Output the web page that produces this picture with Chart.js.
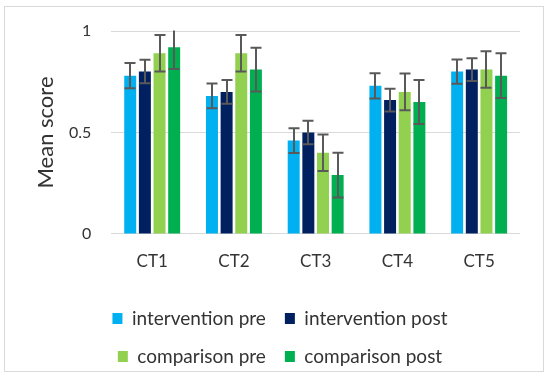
<!DOCTYPE html>
<html>
<head>
<meta charset="utf-8">
<script src="https://cdn.jsdelivr.net/npm/chart.js@4/dist/chart.umd.min.js"></script>
<style>
  html, body { margin: 0; padding: 0; background: #fff; }
  #wrap { width: 550px; height: 376px; position: relative; }
</style>
</head>
<body>
<div id="wrap"><canvas id="c" width="550" height="376"></canvas></div>
<script>
const categories = ['CT1', 'CT2', 'CT3', 'CT4', 'CT5'];
const seriesNames = ['intervention pre', 'intervention post', 'comparison pre', 'comparison post'];
const interventionPre  = [0.78, 0.68, 0.46, 0.73, 0.80];
const interventionPost = [0.80, 0.70, 0.50, 0.66, 0.81];
const comparisonPre    = [0.89, 0.89, 0.40, 0.70, 0.81];
const comparisonPost   = [0.92, 0.81, 0.29, 0.65, 0.78];
const errInterventionPre  = [0.062, 0.061, 0.061, 0.062, 0.060];
const errInterventionPost = [0.058, 0.058, 0.058, 0.056, 0.056];
const errComparisonPre    = [0.090, 0.090, 0.090, 0.091, 0.090];
const errComparisonPost   = [0.107, 0.108, 0.110, 0.108, 0.110];
const yTicks = [0, 0.5, 1];
const yTickLabels = ['0', '0.5', '1'];

const colors = ['#00B0F0', '#002060', '#92D050', '#00B050'];
const values = [interventionPre, interventionPost, comparisonPre, comparisonPost];
const errors = [errInterventionPre, errInterventionPost, errComparisonPre, errComparisonPost];

const FONT = 'Lato';
const TEXT = '#333333';

const frame = {
  id: 'frame',
  beforeDraw(chart) {
    const ctx = chart.ctx;
    ctx.save();
    ctx.fillStyle = '#ffffff';
    ctx.fillRect(0, 0, chart.width, chart.height);
    ctx.strokeStyle = '#D9D9D9';
    ctx.lineWidth = 1;
    ctx.strokeRect(4.5, 6.5, 539, 365);
    ctx.restore();
  }
};

const errorBars = {
  id: 'errorBars',
  afterDatasetsDraw(chart) {
    const ctx = chart.ctx;
    const y = chart.scales.y;
    const area = chart.chartArea;
    ctx.save();
    ctx.beginPath();
    ctx.rect(area.left, area.top - 0.5, area.right - area.left, area.bottom - area.top + 1);
    ctx.clip();
    ctx.strokeStyle = '#595959';
    ctx.lineWidth = 2;
    chart.data.datasets.forEach((ds, di) => {
      const meta = chart.getDatasetMeta(di);
      meta.data.forEach((bar, i) => {
        const v = ds.data[i];
        const e = ds.errors[i];
        const x = Math.round(bar.x);
        const yTop = y.getPixelForValue(v + e);
        const yBot = y.getPixelForValue(v - e);
        const cap = 5.5;
        ctx.beginPath();
        ctx.moveTo(x, yTop); ctx.lineTo(x, yBot);
        ctx.moveTo(x - cap, yTop); ctx.lineTo(x + cap, yTop);
        ctx.moveTo(x - cap, yBot); ctx.lineTo(x + cap, yBot);
        ctx.stroke();
      });
    });
    ctx.restore();
  }
};

new Chart(document.getElementById('c'), {
  type: 'bar',
  data: {
    labels: categories,
    datasets: seriesNames.map((name, k) => ({
      label: name,
      data: values[k],
      errors: errors[k],
      backgroundColor: colors[k],
      borderWidth: 0,
      barPercentage: 0.818,
      categoryPercentage: 0.717
    }))
  },
  options: {
    responsive: false,
    animation: false,
    devicePixelRatio: 1,
    layout: { padding: { top: 31, left: 40, right: 30, bottom: 0 } },
    plugins: {
      tooltip: { enabled: false },
      legend: {
        position: 'bottom',
        maxHeight: 99.5,
        labels: {
          boxWidth: 10,
          boxHeight: 11,
          padding: 19,
          color: TEXT,
          font: { family: FONT, size: 19 }
        }
      }
    },
    scales: {
      x: {
        grid: { display: false, drawTicks: false },
        border: { display: false },
        ticks: {
          color: TEXT,
          padding: 12.5,
          font: { family: FONT, size: 17, lineHeight: 1.824 }
        }
      },
      y: {
        min: 0,
        max: 1,
        afterBuildTicks(scale) { scale.ticks = yTicks.map(v => ({ value: v })); },
        grid: { color: '#D9D9D9', drawTicks: false, lineWidth: 1 },
        border: { display: false },
        ticks: {
          color: TEXT,
          padding: 20,
          font: { family: FONT, size: 16 },
          callback(value) { const k = yTicks.indexOf(value); return k >= 0 ? yTickLabels[k] : ''; }
        },
        title: {
          display: true,
          text: 'Mean score',
          color: TEXT,
          font: { family: FONT, size: 22 },
          padding: { top: -7.7, bottom: -9.7 }
        }
      }
    }
  },
  plugins: [frame, errorBars]
});
</script>
</body>
</html>
